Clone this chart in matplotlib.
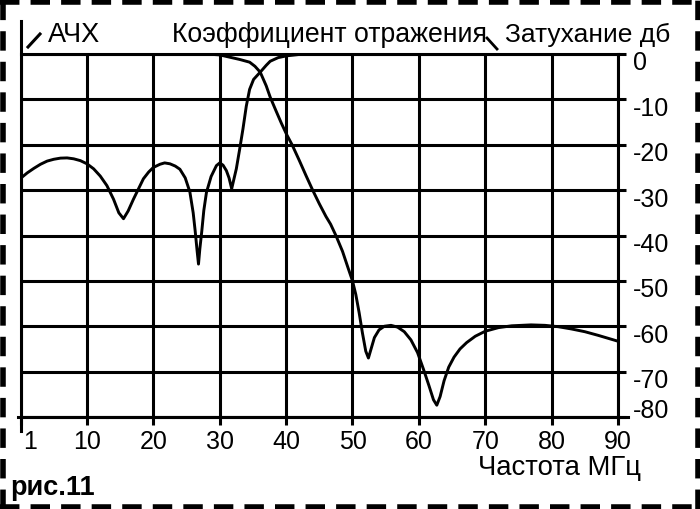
import matplotlib
matplotlib.use("Agg")
import matplotlib.pyplot as plt
from matplotlib.lines import Line2D
from matplotlib.transforms import ScaledTranslation

plt.rcParams['font.family'] = ['Liberation Sans', 'DejaVu Sans']
plt.rcParams['lines.scale_dashes'] = False

# АЧХ фильтра (затухание, дБ)
freq_ach = [0, 10, 20, 28, 30, 31.5, 33, 34.5, 35.3, 36.1, 37, 37.6, 38.5,
            39.3, 40.1, 40.9, 42, 43, 44, 45, 46, 46.7, 47.5, 48.5, 49.3, 50,
            50.5, 51, 51.5, 52, 52.4, 52.8, 53.3, 54, 54.8, 55.8, 56.8, 57.8,
            58.8, 59.8, 60.7, 61.5, 62.2, 62.7, 63.2, 63.8, 64.5, 65.3, 66.2,
            67.2, 68.5, 70, 72, 74, 76.9, 79, 81, 83, 85, 87, 90]
att_ach = [0, 0, 0, 0, -0.2, -0.7, -1.2, -1.8, -2.7, -4.0, -7.0, -9.5, -12.6,
           -15.3, -17.8, -20.0, -23.5, -26.8, -30.0, -33.0, -35.8, -37.5,
           -40.0, -43.5, -47.0, -50.0, -53.0, -57.0, -61.5, -65.5, -67.0,
           -65.0, -62.5, -60.8, -60.0, -59.8, -60.2, -61.2, -63.0, -65.8,
           -69.5, -73.0, -76.2, -77.4, -75.5, -72.0, -69.0, -66.8, -65.0,
           -63.6, -62.2, -61.1, -60.3, -59.9, -59.7, -59.8, -60.1, -60.6,
           -61.2, -62.0, -63.3]

# коэффициент отражения, дБ
freq_refl = [0, 1, 2, 3, 4, 5, 6, 7, 8, 9, 10, 11, 12, 13, 14, 14.8, 15.5,
             16.2, 17, 17.5, 18.5, 19.3, 20, 21, 21.7, 22.5, 23.3, 24, 24.8,
             25.5, 26, 26.3, 26.6, 26.8, 27.0, 27.3, 27.6, 28, 28.7, 29.5, 30,
             30.5, 31, 31.4, 31.8, 32.1, 32.5, 33.0, 33.5, 34, 34.5, 35.1,
             36.1, 37, 37.6, 38.8, 40.1, 42, 44, 90]
refl = [-27.4, -26.2, -25.2, -24.3, -23.6, -23.2, -22.95, -22.9, -23.1,
        -23.5, -24.2, -25.3, -26.9, -29.0, -32.0, -35.0, -36.3, -34.6, -32.0,
        -30.5, -27.5, -26.0, -25.0, -24.3, -24.0, -24.2, -24.7, -25.4, -27.3,
        -30.4, -35.0, -39.0, -43.5, -46.3, -43.0, -39.0, -34.5, -30.5, -27.0,
        -24.6, -24.0, -24.5, -25.7, -27.3, -29.7, -27.8, -25.3, -21.0, -16.5,
        -11.5, -7.8, -5.6, -4.0, -2.5, -1.6, -0.8, -0.4, -0.1, 0, 0]

x_ticks = [0, 10, 20, 30, 40, 50, 60, 70, 80, 90]
x_labels = ['1', '10', '20', '30', '40', '50', '60', '70', '80', '90']
y_ticks = [0, -10, -20, -30, -40, -50, -60, -70, -80]
y_labels = ['0', '-10', '-20', '-30', '-40', '-50', '-60', '-70', '-80']

W, H = 700, 510
fig = plt.figure(figsize=(7, 5.1), dpi=100)
fig.patch.set_facecolor('white')

ax = fig.add_axes([20.6 / W, 1 - 418 / H, (618 - 20.6) / W, (418 - 55) / H])
ax.set_xlim(0, 90)
ax.set_ylim(-80, 0)

lw = 2.2
ax.plot(freq_ach, att_ach, color='black', lw=2.1)
ax.plot(freq_refl, refl, color='black', lw=2.1)

ax.set_xticks(x_ticks)
ax.set_xticklabels(x_labels)
ax.set_yticks(y_ticks)
ax.set_yticklabels(y_labels)
ax.yaxis.tick_right()
ax.grid(True, color='black', lw=lw)
ax.tick_params(axis='x', direction='out', length=5.5, width=lw, pad=3,
               labelsize=18)
ax.tick_params(axis='y', direction='out', length=6, width=lw, pad=5,
               labelsize=18)

for s in ['top', 'right', 'bottom']:
    ax.spines[s].set_linewidth(lw)
ax.spines['left'].set_visible(False)

# подпись "1" сдвинута вправо; подписи справа чуть ниже линий, "-80" выше
xl = ax.get_xticklabels()
xl[0].set_transform(xl[0].get_transform() + ScaledTranslation(0.09, 0, fig.dpi_scale_trans))
yl = ax.get_yticklabels()
for lab in yl[:-1]:
    lab.set_transform(lab.get_transform() + ScaledTranslation(0, -0.06, fig.dpi_scale_trans))
yl[-1].set_transform(yl[-1].get_transform() + ScaledTranslation(0, 0.10, fig.dpi_scale_trans))

# левая ось выходит за пределы поля
ax.plot([0, 0], [(418 - 432) / 363, (418 - 22) / 363], transform=ax.transAxes,
        color='black', lw=lw, clip_on=False)
ax.plot([-0.004, (628 - 20.6) / 597.4], [0, 0], transform=ax.transAxes,
        color='black', lw=lw, clip_on=False)


def px(x, y):
    return x / W, 1 - y / H


fig.text(*px(48, 42), 'АЧХ', fontsize=19.5, va='baseline', ha='left')
fig.text(*px(172, 42), 'Коэффициент отражения', fontsize=19.2, va='baseline', ha='left')
fig.text(*px(505, 42), 'Затухание дб', fontsize=19, va='baseline', ha='left')
fig.text(*px(641, 475), 'Частота МГц', fontsize=19.8, va='baseline', ha='right')
fig.text(*px(10, 495), 'рис.11', fontsize=19.5, fontweight='bold', va='baseline', ha='left')

# указатели
fig.add_artist(Line2D([28 / W, 40 / W], [1 - 48 / H, 1 - 35 / H], color='black', lw=2.2))
fig.add_artist(Line2D([487 / W, 497 / W], [1 - 39 / H, 1 - 50 / H], color='black', lw=2.0))

# пунктирная рамка
bw = 4.0
dash = (0, (14, 8))
for xs, ys in [([0, 1], [1 - 2.5 / H] * 2), ([0, 1], [2.5 / H] * 2),
               ([2.5 / W] * 2, [0, 1]), ([1 - 2.5 / W] * 2, [0, 1])]:
    fig.add_artist(Line2D(xs, ys, color='black', lw=bw, linestyle=dash))

fig.savefig('out.png', dpi=100)
